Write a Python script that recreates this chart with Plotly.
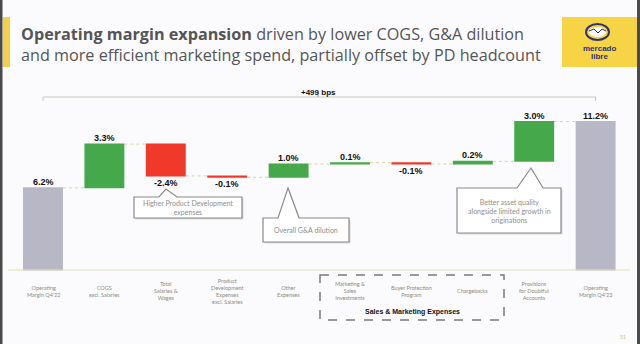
import plotly.graph_objects as go

W, H = 640, 344

# ---- data -------------------------------------------------------------
categories = [
    "Operating Margin Q4'22", "COGS excl. Salaries", "Total Salaries & Wages",
    "Product Development Expenses excl. Salaries", "Other Expenses",
    "Marketing & Sales Investments", "Buyer Protection Program", "Chargebacks",
    "Provisions for Doubtful Accounts", "Operating Margin Q4'23",
]
tick_labels = [
    "Operating<br>Margin Q4'22", "COGS<br>excl. Salaries", "Total<br>Salaries &<br>Wages",
    "Product<br>Development<br>Expenses<br>excl. Salaries", "Other<br>Expenses",
    "Marketing &<br>Sales<br>Investments", "Buyer Protection<br>Program", "Chargebacks",
    "Provisions<br>for Doubtful<br>Accounts", "Operating<br>Margin Q4'23",
]
values = [6.2, 3.3, -2.4, -0.1, 1.0, 0.1, -0.1, 0.2, 3.0, 11.2]
measures = ["absolute"] + ["relative"] * 8 + ["total"]
bridge_label = "+499 bps"

GREEN = "#45a84b"
RED = "#f1392b"
GREY = "#b8b7c6"
BG = "#fbfbfd"
NAVY = "#2d3277"


def px(x):
    return x / W


def py(y):
    return 1 - y / H


fig = go.Figure()
fig.add_trace(go.Waterfall(
    x=categories, y=values, measure=measures,
    width=0.65,
    increasing=dict(marker=dict(color=GREEN)),
    decreasing=dict(marker=dict(color=RED)),
    totals=dict(marker=dict(color=GREY)),
    connector=dict(line=dict(color="#d8d2a0", width=1, dash="dot")),
    hoverinfo="skip",
))

annotations = []
shapes = []

# value labels, placed at the end of each bar
level = 0.0
for i, (c, v, m) in enumerate(zip(categories, values, measures)):
    if m == "absolute":
        start, end = 0.0, v
        level = v
    elif m == "total":
        start, end = 0.0, level
    else:
        start, end = level, level + v
        level = end
    top, bot = max(start, end), min(start, end)
    txt = f"<b>{v:.1f}%</b>"
    font = dict(family="Liberation Sans, Arial", size=9, color="#111")
    if v >= 0:
        annotations.append(dict(x=c, y=top, xref="x", yref="y", text=txt, xanchor="center",
                                showarrow=False, yanchor="bottom", yshift=-1, font=font))
    else:
        annotations.append(dict(x=c, y=bot, xref="x", yref="y", text=txt, xanchor="center",
                                showarrow=False, yanchor="top", font=font))

# category labels under the baseline
for c, lab in zip(categories, tick_labels):
    annotations.append(dict(x=c, y=py(291), xref="x", yref="paper", text=lab,
                            showarrow=False, xanchor="center", yanchor="middle", align="center",
                            font=dict(family="Lato", size=5.5, color="#8c8c7c")))

# baseline
shapes.append(dict(type="line", xref="paper", yref="y", x0=px(8), x1=px(630), y0=0, y1=0,
                   line=dict(color="#e2ddb8", width=1)))

# +499 bps bracket between the two margin bars
yb = py(97)
shapes += [
    dict(type="line", xref="x", yref="paper", x0=0, x1=9, y0=yb, y1=yb,
         line=dict(color="#c9c7bc", width=1)),
    dict(type="line", xref="x", yref="paper", x0=0, x1=0, y0=yb, y1=py(101),
         line=dict(color="#c9c7bc", width=1)),
    dict(type="line", xref="x", yref="paper", x0=9, x1=9, y0=yb, y1=py(101),
         line=dict(color="#c9c7bc", width=1)),
    dict(type="line", xref="paper", yref="paper", x0=px(318), x1=px(318), y0=yb, y1=py(93),
         line=dict(color="#9a9a9a", width=1)),
]
annotations.append(dict(x=px(318), y=py(86), xref="paper", yref="paper", text=f"<b>{bridge_label}</b>",
                        showarrow=False, xanchor="center",
                        font=dict(family="Liberation Sans, Arial", size=8, color="#111")))


# speech-bubble callouts
def bubble(x0, y0, x1, y1, b0, b1, tx, ty, d=0.0):
    pts = [(x0, y0), (b0, y0), (tx, ty), (b1, y0), (x1, y0), (x1, y1), (x0, y1)]
    return "M " + " L ".join(f"{px(a + d):.5f},{py(b + d):.5f}" for a, b in pts) + " Z"


callouts = [
    ((134, 197, 242, 218, 159, 177, 166, 189), "Higher Product Development<br>expenses", (188, 207.5)),
    ((263, 218, 349, 242, 278, 299, 288, 188), "Overall G&A dilution", (306, 230)),
    ((457, 188, 561, 233, 517, 543, 531, 168), "Better asset quality<br>alongside limited growth in<br>originations", (509, 211)),
]
for geo, text, (cx, cy) in callouts:
    shapes.append(dict(type="path", xref="paper", yref="paper", path=bubble(*geo, d=1.5),
                       fillcolor="#d9d9d9", line=dict(width=0)))
    shapes.append(dict(type="path", xref="paper", yref="paper", path=bubble(*geo),
                       fillcolor="white", line=dict(color="#8a8a8a", width=1.2)))
    annotations.append(dict(x=px(cx), y=py(cy), xref="paper", yref="paper", text=text,
                            showarrow=False, xanchor="center", yanchor="middle", align="center",
                            font=dict(family="Lato", size=7, color="#8e8e8e")))

# Sales & Marketing group box
shapes.append(dict(type="rect", xref="paper", yref="paper", x0=px(320), x1=px(504), y0=py(275), y1=py(320),
                   line=dict(color="#7a7a7a", width=1.5, dash="dash")))
annotations.append(dict(x=px(412), y=py(312), xref="paper", yref="paper",
                        text="<b>Sales & Marketing Expenses</b>", showarrow=False,
                        xanchor="center", yanchor="middle",
                        font=dict(family="Liberation Sans, Arial", size=7, color="#111")))

# page frame, accent bar and logo
shapes += [
    dict(type="rect", xref="paper", yref="paper", x0=0, x1=px(2.5), y0=0, y1=1,
         fillcolor="#4a4a4a", line=dict(width=0)),
    dict(type="rect", xref="paper", yref="paper", x0=px(637), x1=1, y0=0, y1=1,
         fillcolor="#4a4a4a", line=dict(width=0)),
    dict(type="rect", xref="paper", yref="paper", x0=px(3), x1=px(10), y0=py(67), y1=py(17),
         fillcolor="#f4cf48", line=dict(width=0)),
    dict(type="rect", xref="paper", yref="paper", x0=px(562), x1=px(637), y0=py(67), y1=py(17),
         fillcolor="#f6d445", line=dict(width=0)),
    dict(type="circle", xref="paper", yref="paper", x0=px(586), x1=px(609), y0=py(40), y1=py(24),
         fillcolor="#f6d445", line=dict(color=NAVY, width=2)),
    dict(type="circle", xref="paper", yref="paper", x0=px(589), x1=px(606), y0=py(37), y1=py(27),
         fillcolor="white", line=dict(width=0)),
    dict(type="path", xref="paper", yref="paper",
         path=f"M {px(589)},{py(31)} L {px(594)},{py(29)} L {px(598)},{py(33)} L {px(602)},{py(29)} L {px(606)},{py(31)}",
         line=dict(color=NAVY, width=1)),
]
annotations += [
    dict(x=px(599), y=py(48.5), xref="paper", yref="paper", text="<b>mercado</b>", showarrow=False,
         xanchor="center", yanchor="middle",
         font=dict(family="Liberation Sans, Arial", size=8, color=NAVY)),
    dict(x=px(599), y=py(56), xref="paper", yref="paper", text="<b>libre</b>", showarrow=False,
         xanchor="center", yanchor="middle",
         font=dict(family="Liberation Sans, Arial", size=8, color=NAVY)),
    dict(x=px(623), y=py(337), xref="paper", yref="paper", text="51", showarrow=False,
         xanchor="center", yanchor="middle",
         font=dict(family="Lato", size=5, color="#c9bd6a")),
]

# title
title_font = dict(family="Open Sans", size=16.2, color="#555555")
annotations += [
    dict(x=px(19), y=py(34), xref="paper", yref="paper", xanchor="left", yanchor="middle",
         text="<b>Operating margin expansion</b> driven by lower COGS, G&A dilution",
         showarrow=False, font=title_font),
    dict(x=px(19), y=py(55.5), xref="paper", yref="paper", xanchor="left", yanchor="middle",
         text="and more efficient marketing spend, partially offset by PD headcount",
         showarrow=False, font=title_font),
]

fig.update_layout(
    width=W, height=H,
    margin=dict(l=0, r=0, t=0, b=0),
    paper_bgcolor=BG, plot_bgcolor=BG,
    showlegend=False,
    xaxis=dict(range=[-0.7003, 9.7231], showticklabels=False, showgrid=False,
               zeroline=False, showline=False, fixedrange=True),
    yaxis=dict(range=[-5.585, 20.377], showticklabels=False, showgrid=False,
               zeroline=False, showline=False, fixedrange=True),
    shapes=shapes,
    annotations=annotations,
)

fig.write_html("out.html")
